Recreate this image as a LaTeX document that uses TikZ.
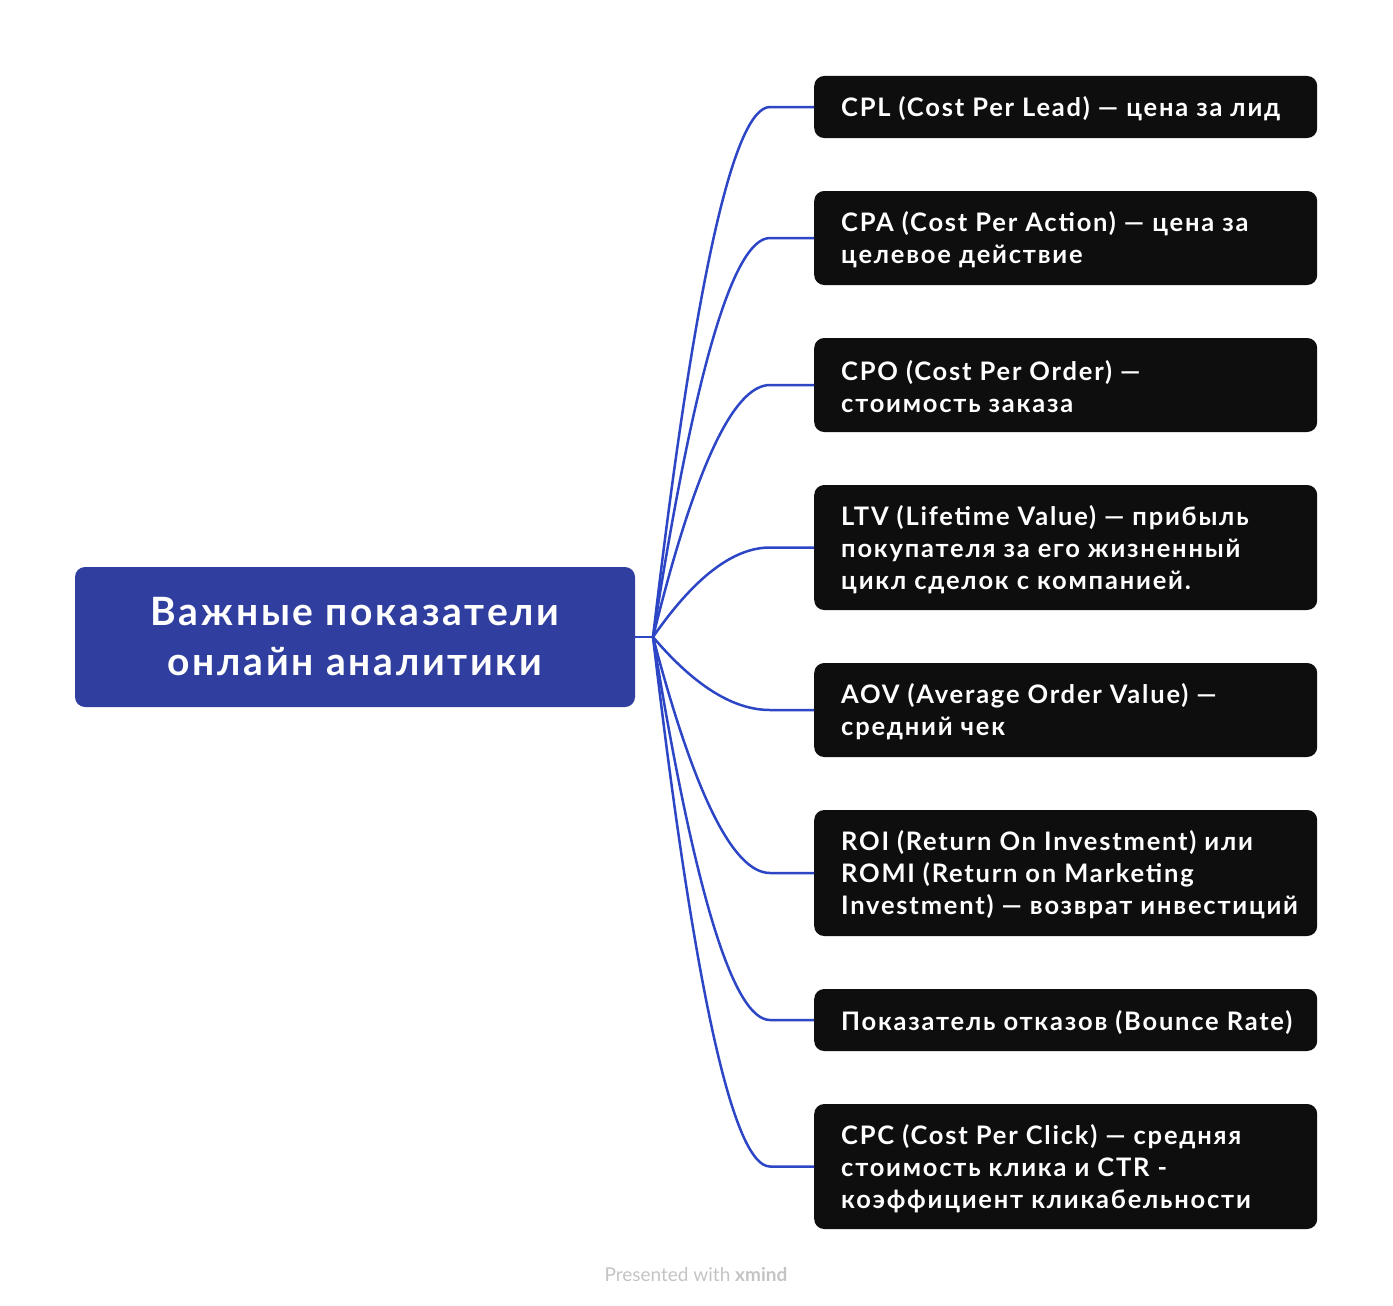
\documentclass[tikz,border=0pt]{standalone}
\usepackage{fontspec}
\setmainfont{Lato}
\newfontfamily\widefont[LetterSpace=7]{Lato}
\usetikzlibrary{calc}
\definecolor{mainblue}{HTML}{303F9F}
\definecolor{linkblue}{HTML}{2D46C6}
\definecolor{boxblack}{HTML}{0E0E0E}
\definecolor{footgray}{HTML}{C4C4C4}
\tikzset{
  leaf/.style={fill=boxblack, rounded corners=10pt, minimum width=503pt, inner sep=0pt, anchor=west},
  leaftext/.style={inner sep=0pt, align=left, anchor=west, text=white, yshift=-2pt,
    font=\widefont\fontsize{25.5}{32}\selectfont\bfseries},
  root/.style={fill=mainblue, rounded corners=10pt, minimum width=560pt, minimum height=140pt,
    align=center, text=white, font=\widefont\fontsize{39}{50}\selectfont\bfseries},
  link/.style={draw=linkblue, line width=2.5pt}
}
\begin{document}
\begin{tikzpicture}[x=1pt,y=-1pt]
\path[use as bounding box, fill=white] (0,0) rectangle (1393,1306);
\node[root] (root) at (355,637) {Важные показатели\\онлайн аналитики};
\node[leaf, minimum height=62pt] (c1) at (814,107) {};
\node[leaf, minimum height=94pt] (c2) at (814,238) {};
\node[leaf, minimum height=94pt] (c3) at (814,385) {};
\node[leaf, minimum height=125pt] (c4) at (814,547.5) {};
\node[leaf, minimum height=94pt] (c5) at (814,710) {};
\node[leaf, minimum height=126pt] (c6) at (814,873) {};
\node[leaf, minimum height=62pt] (c7) at (814,1020) {};
\node[leaf, minimum height=125pt] (c8) at (814,1166.5) {};
\node[leaftext] (t1) at ($(c1.west)+(27,0)$) {CPL (Cost Per Lead) — цена за лид};
\node[leaftext] (t2) at ($(c2.west)+(27,0)$) {CPA (Cost Per Action) — цена за\\целевое действие};
\node[leaftext] (t3) at ($(c3.west)+(27,0)$) {CPO (Cost Per Order) —\\стоимость заказа};
\node[leaftext] (t4) at ($(c4.west)+(27,0)$) {LTV (Lifetime Value) — прибыль\\покупателя за его жизненный\\цикл сделок с компанией.};
\node[leaftext] (t5) at ($(c5.west)+(27,0)$) {AOV (Average Order Value) —\\средний чек};
\node[leaftext] (t6) at ($(c6.west)+(27,0)$) {ROI (Return On Investment) или\\ROMI (Return on Marketing\\Investment) — возврат инвестиций};
\node[leaftext] (t7) at ($(c7.west)+(27,0)$) {Показатель отказов (Bounce Rate)};
\node[leaftext] (t8) at ($(c8.west)+(27,0)$) {CPC (Cost Per Click) — средняя\\стоимость клика и CTR -\\коэффициент кликабельности};
\coordinate (j) at (653,637);
\coordinate (ex) at (770,0);
\coordinate (qx) at (715,0);
\draw[link] (root.east) -- (j);
\foreach \n in {1,...,8}{
  \draw[link] (j) .. controls ($(j)!0.667!(c\n.west -| qx)$) and ($(c\n.west -| ex)!0.667!(c\n.west -| qx)$) .. (c\n.west -| ex) -- (c\n.west);
}
\node[text=footgray, font=\fontsize{19}{22}\selectfont] (foot) at (696,1275) {Presented with \textbf{xmind}};
\end{tikzpicture}
\end{document}
